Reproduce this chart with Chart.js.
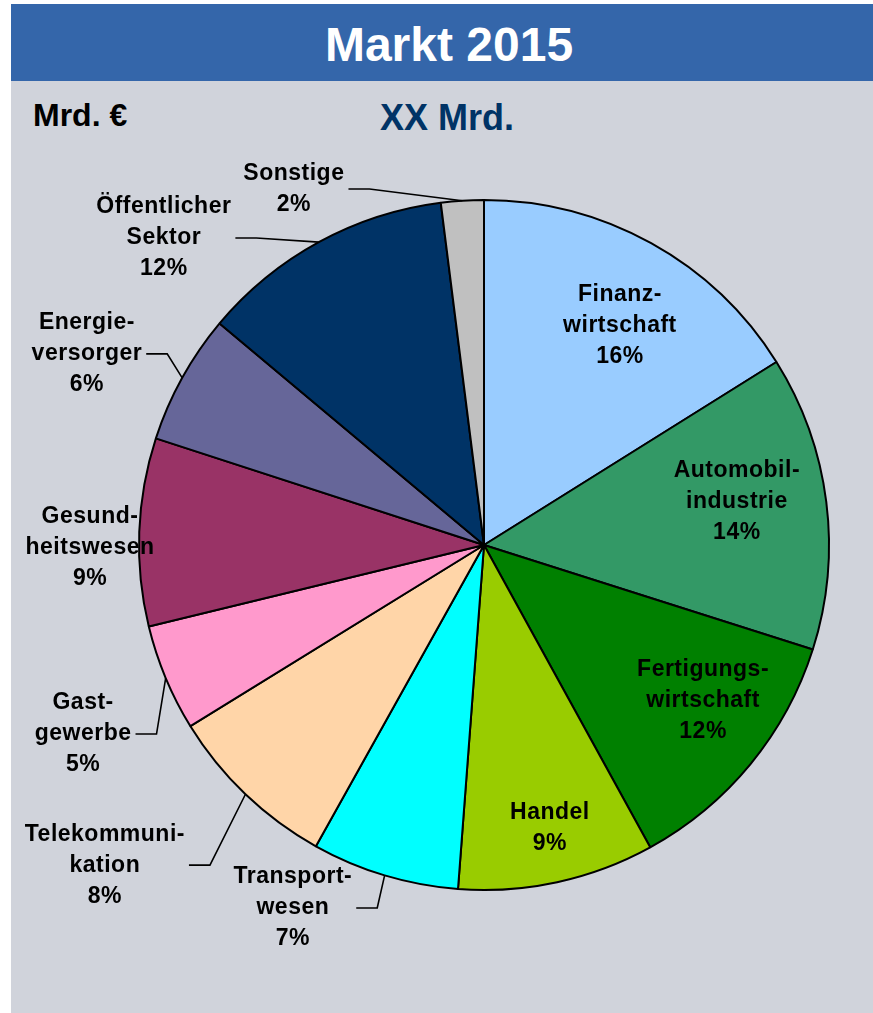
<!DOCTYPE html>
<html lang="de">
<head>
<meta charset="utf-8">
<title>Markt 2015</title>
<script src="https://cdn.jsdelivr.net/npm/chart.js@4.4.1/dist/chart.umd.min.js"></script>
<style>
  body {
    margin: 0;
    width: 873px;
    height: 1013px;
    position: relative;
    overflow: hidden;
    background: #ffffff;
    font-family: "Liberation Sans", Arial, sans-serif;
  }
  #header {
    position: absolute;
    left: 11px; top: 4px;
    width: 862px; height: 77px;
    background: #3466aa;
  }
  #panel {
    position: absolute;
    left: 11px; top: 81px;
    width: 862px; height: 932px;
    background: #d0d3db;
  }
  .txt {
    position: absolute;
    font-weight: bold;
    white-space: nowrap;
  }
  #title { left: 11px; width: 876px; text-align: center; top: 21px; font-size: 48px; line-height: 48px; color: #ffffff; }
  #unit { left: 33px; top: 99px; font-size: 32px; line-height: 32px; color: #000000; }
  #total { left: 347px; width: 200px; text-align: center; top: 100px; font-size: 36px; line-height: 36px; color: #003366; }
  #pie { position: absolute; left: 0; top: 0; }
</style>
</head>
<body>
<div id="header"></div>
<div id="panel"></div>
<div class="txt" id="title">Markt 2015</div>
<div class="txt" id="unit">Mrd. €</div>
<div class="txt" id="total">XX Mrd.</div>
<canvas id="pie" width="873" height="1013"></canvas>

<script>
'use strict';

// *********** DATA ****************

// categories, clockwise from 12 o'clock (each entry = label lines)
let categories = [
  ['Finanz-', 'wirtschaft'],
  ['Automobil-', 'industrie'],
  ['Fertigungs-', 'wirtschaft'],
  ['Handel'],
  ['Transport-', 'wesen'],
  ['Telekommuni-', 'kation'],
  ['Gast-', 'gewerbe'],
  ['Gesund-', 'heitswesen'],
  ['Energie-', 'versorger'],
  ['Öffentlicher', 'Sektor'],
  ['Sonstige']
];

// share of market in percent
let shares = [16.1, 13.8, 12.1, 9.2, 6.9, 8.1, 5.0, 8.8, 6.1, 11.9, 2.0];

let sliceColors = ['#99ccff', '#339966', '#008000', '#99cc00', '#00ffff', '#ffd5a8',
  '#ff99cc', '#993366', '#666699', '#003366', '#c0c0c0'];

// ********** LABEL LAYOUT (relative to pie centre, in radius units) ****
// [dx, dy, leaderLine]
let labelPlacement = [
  [0.394, -0.635, false],
  [0.733, -0.125, false],
  [0.635, 0.452, false],
  [0.191, 0.820, false],
  [-0.554, 1.052, true],
  [-1.099, 0.928, true],
  [-1.162, 0.548, true],
  [-1.142, 0.009, false],
  [-1.151, -0.554, true],
  [-0.928, -0.890, true],
  [-0.551, -1.032, true]
];

// ********** HELPERS ********************

let labelFont = 'bold 23px "Liberation Sans", Arial, sans-serif';
let lineHeight = 31;

function pctText(i){
  let total = shares.reduce((a, b) => a + b, 0);
  return Math.round(shares[i] / total * 100) + '%';
}

// draws slice labels and leader lines
let sliceLabels = {
  id: 'sliceLabels',
  afterDatasetsDraw(chart){
    let ctx = chart.ctx;
    let arcs = chart.getDatasetMeta(0).data;
    ctx.save();
    ctx.font = labelFont;
    ctx.letterSpacing = '0.5px';
    ctx.fillStyle = '#000000';
    ctx.textAlign = 'center';
    ctx.textBaseline = 'middle';
    ctx.strokeStyle = '#000000';
    ctx.lineWidth = 1.6;

    for(let i=0;i<arcs.length;i++){
      let p = arcs[i].getProps(['x','y','startAngle','endAngle','outerRadius'], true);
      let r = p.outerRadius;
      let cx = p.x + labelPlacement[i][0] * r;
      let cy = p.y + labelPlacement[i][1] * r;
      let lines = categories[i].concat([pctText(i)]);

      let maxW = 0;
      for(let j=0;j<lines.length;j++){
        maxW = Math.max(maxW, ctx.measureText(lines[j]).width);
      }

      if(labelPlacement[i][2]){
        let mid = (p.startAngle + p.endAngle) / 2;
        let ax = p.x + r * Math.cos(mid);
        let ay = p.y + r * Math.sin(mid);
        let right = cx + maxW / 2 + 4;
        ctx.beginPath();
        ctx.moveTo(right, cy);
        ctx.lineTo(right + 21, cy);
        ctx.lineTo(ax, ay);
        ctx.stroke();
      }

      for(let j=0;j<lines.length;j++){
        let y = cy + (j - (lines.length - 1) / 2) * lineHeight;
        ctx.fillText(lines[j], cx, y);
      }
    }
    ctx.restore();
  }
};

// *********** RENDER CHART ****************

let ctx = document.getElementById('pie').getContext('2d');

new Chart(ctx, {
  type: 'pie',
  data: {
    labels: categories,
    datasets: [{
      data: shares,
      backgroundColor: sliceColors,
      borderColor: '#000000',
      borderWidth: 2
    }]
  },
  options: {
    responsive: false,
    devicePixelRatio: 1,
    animation: false,
    radius: 345,
    layout: {
      padding: { left: 139, right: 44, top: 200, bottom: 123 }
    },
    plugins: {
      legend: { display: false },
      tooltip: { enabled: false }
    }
  },
  plugins: [sliceLabels]
});
</script>
</body>
</html>
